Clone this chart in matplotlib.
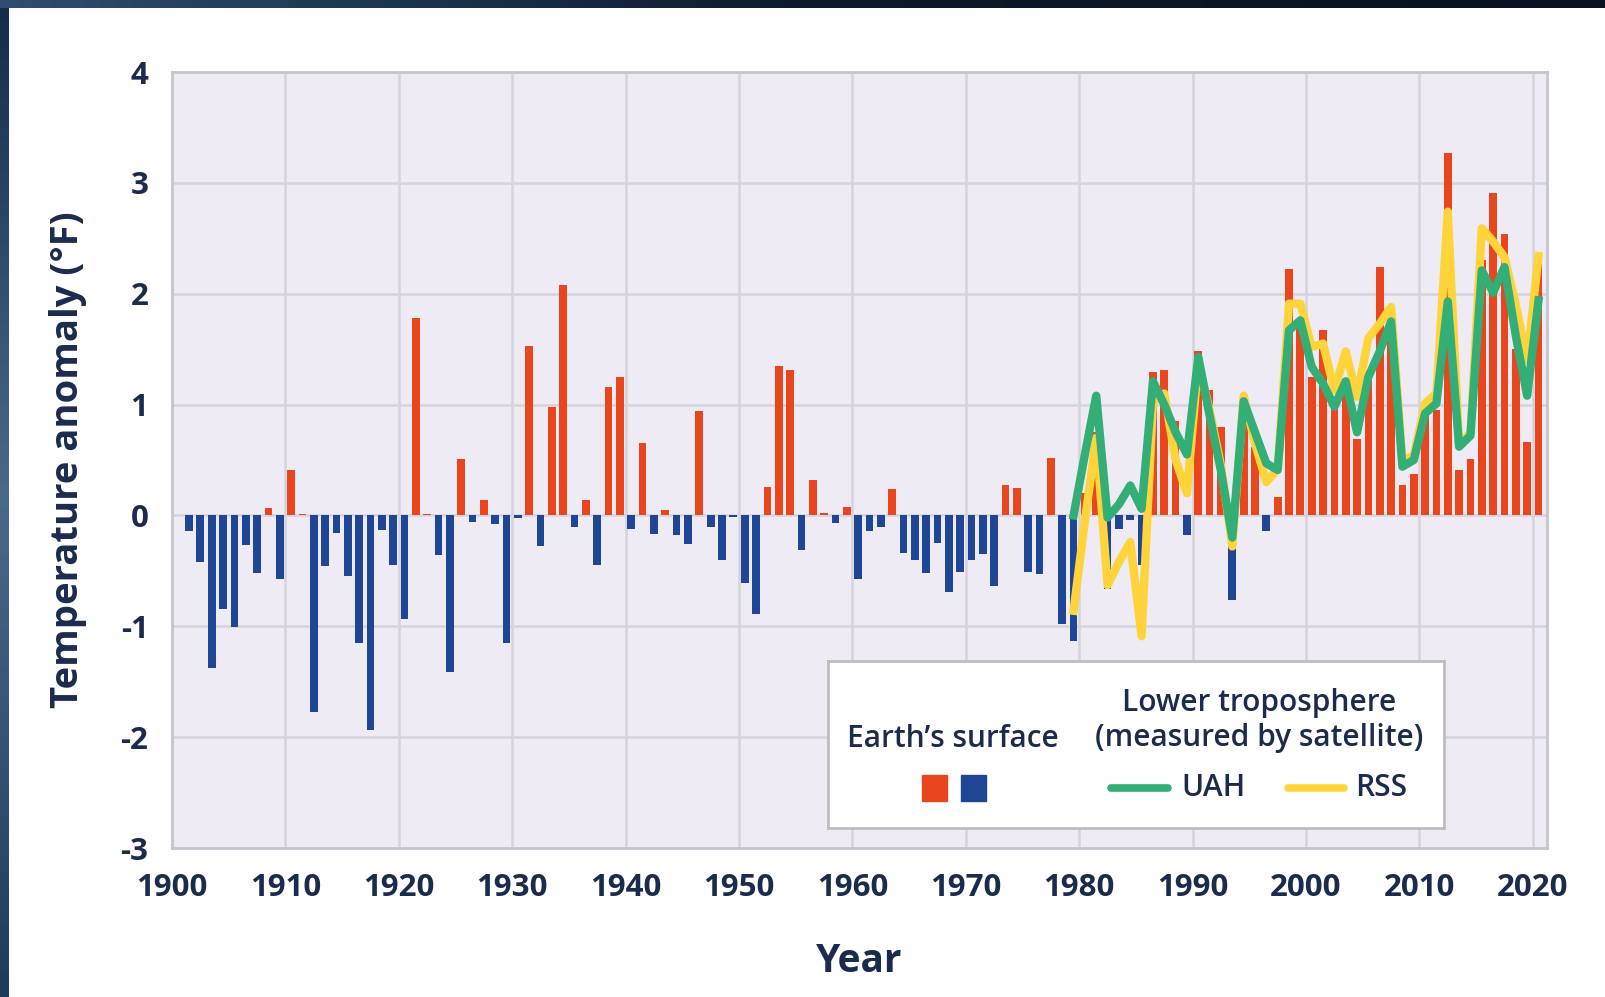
import numpy as np
import matplotlib.pyplot as plt
from matplotlib.colors import LinearSegmentedColormap
from matplotlib.patches import Rectangle
from matplotlib.lines import Line2D

plt.rcParams['font.family'] = ['Open Sans', 'DejaVu Sans']
plt.rcParams['axes.unicode_minus'] = False

# Anomalies de température (°F) par rapport à la moyenne 1901-2000
years = np.arange(1901, 2021)
surface = np.array([
    -0.14, -0.42, -1.38, -0.84, -1.01, -0.27, -0.52, 0.07, -0.57, 0.41,   # 1901-1910
    0.01, -1.77, -0.46, -0.16, -0.55, -1.15, -1.94, -0.13, -0.45, -0.93,  # 1911-1920
    1.78, 0.01, -0.36, -1.41, 0.51, -0.06, 0.14, -0.08, -1.15, -0.02,     # 1921-1930
    1.53, -0.28, 0.98, 2.08, -0.10, 0.14, -0.45, 1.16, 1.25, -0.12,       # 1931-1940
    0.65, -0.17, 0.05, -0.18, -0.26, 0.94, -0.10, -0.40, -0.01, -0.61,    # 1941-1950
    -0.89, 0.26, 1.35, 1.31, -0.31, 0.32, 0.02, -0.07, 0.08, -0.57,       # 1951-1960
    -0.14, -0.10, 0.24, -0.34, -0.40, -0.52, -0.25, -0.69, -0.51, -0.40,  # 1961-1970
    -0.35, -0.64, 0.27, 0.25, -0.51, -0.53, 0.52, -0.98, -1.13, 0.20,     # 1971-1980
    0.75, -0.66, -0.12, -0.04, -0.45, 1.29, 1.31, 0.85, -0.18, 1.48,      # 1981-1990
    1.13, 0.80, -0.76, 0.95, 0.62, -0.14, 0.17, 2.22, 1.75, 1.25,         # 1991-2000
    1.67, 1.05, 1.15, 0.69, 1.30, 2.24, 1.70, 0.27, 0.37, 0.95,           # 2001-2010
    0.95, 3.27, 0.41, 0.51, 2.30, 2.91, 2.54, 1.50, 0.66, 2.35,           # 2011-2020
])

# Basse troposphère (satellites), 1979-2020
sat_years = np.arange(1979, 2021)
uah = np.array([
    0.00, 0.55, 1.08, -0.02, 0.10, 0.27, 0.06, 1.21, 1.00, 0.75,
    0.55, 1.43, 0.90, 0.40, -0.20, 1.03, 0.75, 0.47, 0.41, 1.67,
    1.76, 1.34, 1.19, 0.98, 1.21, 0.75, 1.25, 1.48, 1.75, 0.44,
    0.50, 0.92, 1.01, 1.93, 0.62, 0.72, 2.21, 2.01, 2.24, 1.62,
    1.08, 1.94,
])
rss = np.array([
    -0.86, -0.05, 0.70, -0.63, -0.42, -0.24, -1.09, 1.02, 1.10, 0.50,
    0.20, 1.38, 0.95, 0.45, -0.28, 1.08, 0.65, 0.30, 0.42, 1.91,
    1.91, 1.52, 1.55, 1.13, 1.48, 1.07, 1.60, 1.73, 1.88, 0.50,
    0.54, 1.01, 1.10, 2.74, 0.63, 0.75, 2.59, 2.47, 2.33, 1.90,
    1.40, 2.34,
])

x_ticks = np.arange(1900, 2021, 10)
y_ticks = np.arange(-3, 5)

RED = '#E9461E'
BLUE = '#1E4694'
GREEN = '#33AE76'
YELLOW = '#FFD43B'
NAVY = '#1b2b4d'
GRID = '#d5d3dd'

fig = plt.figure(figsize=(16.06, 9.97), dpi=100)
fig.patch.set_facecolor('white')

# bandeaux sombres en dégradé (bord gauche et haut)
left_cmap = LinearSegmentedColormap.from_list('gauche', ['#142c4a', '#4a6a8a', '#1f3b5c'])
top_cmap = LinearSegmentedColormap.from_list('haut', ['#2e4d70', '#0c1a2c', '#08121f'])
ax_l = fig.add_axes([0, 0, 9 / 1606, 1])
ax_l.imshow(np.linspace(0, 1, 200).reshape(-1, 1), cmap=left_cmap, aspect='auto')
ax_l.axis('off')
ax_t = fig.add_axes([0, 1 - 8 / 997, 1, 8 / 997])
ax_t.imshow(np.linspace(0, 1, 400).reshape(1, -1), cmap=top_cmap, aspect='auto')
ax_t.axis('off')

# === Graphique principal ===
ax = fig.add_axes([172 / 1606, 1 - 848 / 997, 1375 / 1606, 776 / 997])
ax.set_facecolor('#efebf4')

bar_colors = np.where(surface >= 0, RED, BLUE)
ax.bar(years + 0.5, surface, width=0.68, color=bar_colors, zorder=2)
ax.plot(sat_years + 0.5, rss, color=YELLOW, lw=6, solid_joinstyle='round', zorder=3)
ax.plot(sat_years + 0.5, uah, color=GREEN, lw=6, solid_joinstyle='round', zorder=4)

ax.set_xlim(1900, 2021.25)
ax.set_ylim(-3, 4)
ax.set_xticks(x_ticks)
ax.set_xticklabels([str(t) for t in x_ticks])
ax.set_yticks(y_ticks)
ax.set_yticklabels([str(t) for t in y_ticks])
ax.grid(True, color=GRID, lw=1.8, zorder=0)
ax.set_axisbelow(True)
for s in ax.spines.values():
    s.set_color('#c6c5ce')
    s.set_linewidth(2)
ax.tick_params(axis='both', length=0, labelsize=22.5, labelcolor=NAVY)
ax.tick_params(axis='x', pad=18)
ax.tick_params(axis='y', pad=17)
for lbl in ax.get_xticklabels() + ax.get_yticklabels():
    lbl.set_fontweight('bold')

ax.set_ylabel('Temperature anomaly (°F)', fontsize=27.5, fontweight='bold', color=NAVY, labelpad=24)
ax.set_xlabel('Year', fontsize=28, fontweight='bold', color=NAVY, labelpad=28)

# === Légende (dessinée à la main) ===
lg = fig.add_axes([827.6 / 1606, 1 - 827.6 / 997, 616.4 / 1606, 167 / 997])
lg.set_xlim(0, 616.4)
lg.set_ylim(167, 0)
lg.set_facecolor('white')
for s in lg.spines.values():
    s.set_color('#bdbdbd')
    s.set_linewidth(2)
lg.set_xticks([])
lg.set_yticks([])
lg.set_zorder(5)

txt = dict(color=NAVY, fontsize=21.5, fontweight='semibold', ha='center', va='center')
lg.text(125, 78, 'Earth’s surface', **txt)
lg.text(432, 42, 'Lower troposphere', **txt)
lg.text(432, 77, '(measured by satellite)', **txt)
lg.add_patch(Rectangle((94, 114), 25, 26, color=RED))
lg.add_patch(Rectangle((133, 114), 25, 26, color=BLUE))
lg.add_line(Line2D([283, 340], [127, 127], color=GREEN, lw=5.5, solid_capstyle='round'))
lg.add_line(Line2D([460, 516], [127, 127], color=YELLOW, lw=5.5, solid_capstyle='round'))
lg.text(354, 127, 'UAH', color=NAVY, fontsize=21.5, fontweight='semibold', ha='left', va='center')
lg.text(528, 127, 'RSS', color=NAVY, fontsize=21.5, fontweight='semibold', ha='left', va='center')

fig.savefig('out.png', dpi=100)
